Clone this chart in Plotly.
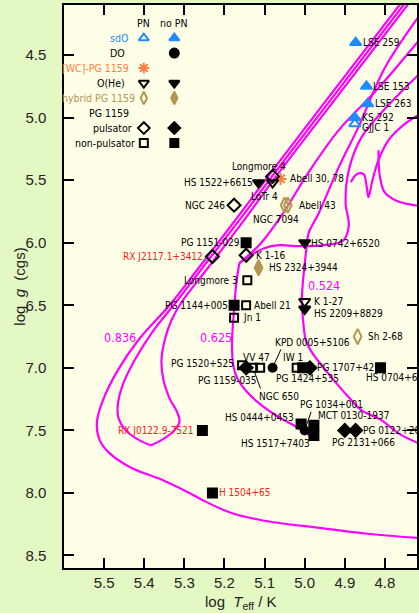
import plotly.graph_objects as go

# ---------------- data ----------------
# evolutionary tracks (log Teff, log g)
trk836a_x = [4.754, 4.940, 5.089, 5.173, 5.263, 5.337, 5.411, 5.466, 5.503, 5.518, 5.511, 5.486,
             5.434, 5.352, 5.285, 5.253, 5.186, 5.104, 4.972, 4.848, 4.704]
trk836a_y = [4.06, 4.836, 5.46, 5.82, 6.196, 6.50, 6.764, 7.02, 7.26, 7.436, 7.58, 7.684,
             7.796, 7.90, 8.004, 8.06, 8.156, 8.22, 8.276, 8.324, 8.364]
trk836b_x = [4.744, 4.930, 5.079, 5.163, 5.250, 5.317, 5.382, 5.424, 5.454, 5.466, 5.464, 5.446,
             5.416, 5.384]
trk836b_y = [4.06, 4.836, 5.46, 5.82, 6.18, 6.46, 6.724, 6.94, 7.14, 7.30, 7.404, 7.50,
             7.572, 7.62]
trk836c_x = [5.384, 5.354, 5.325, 5.312, 5.320, 5.337, 5.352, 5.357, 5.349, 5.332, 5.307,
             5.240, 5.153, 5.069, 4.920, 4.734]
trk836c_y = [7.62, 7.572, 7.50, 7.428, 7.34, 7.244, 7.10, 6.94, 6.78, 6.62, 6.476,
             6.196, 5.828, 5.46, 4.836, 4.06]
trk625a_x = [4.704, 4.816, 4.915, 4.990, 5.057, 5.109, 5.143, 5.163]
trk625a_y = [4.34, 4.764, 5.10, 5.436, 5.78, 6.004, 6.108, 6.164]
trk625b_x = [5.163, 5.171, 5.176, 5.181, 5.178, 5.168, 5.143, 5.104, 5.059, 5.014, 4.970]
trk625b_y = [6.164, 6.34, 6.54, 6.78, 6.98, 7.084, 7.196, 7.308, 7.404, 7.484, 7.58]
trk524_x = [4.704, 4.799, 4.866, 4.915, 4.965, 4.990, 4.997, 5.004, 5.007, 5.004, 4.997, 4.982,
            4.933, 4.890, 4.858, 4.808, 4.766, 4.704]
trk524_y = [4.14, 4.596, 5.076, 5.396, 5.764, 5.924, 6.084, 6.30, 6.46, 6.62, 6.78, 6.876,
            7.076, 7.236, 7.34, 7.42, 7.524, 7.62]
loop_x = [4.704, 4.791, 4.858, 4.890, 4.898, 4.890, 4.903, 4.952, 5.014, 5.064, 5.101, 5.138, 5.163]
loop_y = [4.62, 4.90, 5.156, 5.42, 5.684, 5.86, 5.98, 6.02, 6.028, 6.02, 6.044, 6.108, 6.164]
curlA_x = [4.885, 4.870, 4.853, 4.846, 4.841, 4.831, 4.816, 4.791, 4.754, 4.704]
curlA_y = [5.516, 5.452, 5.452, 5.54, 5.636, 5.50, 5.34, 5.18, 5.06, 4.956]
curlB_x = [4.816, 4.813, 4.801, 4.774, 4.741, 4.704]
curlB_y = [5.26, 5.46, 5.596, 5.66, 5.692, 5.708]
track_labels = ["0.836", "0.625", "0.524"]
track_label_x = [5.461, 5.220, 4.952]
track_label_y = [6.76, 6.76, 6.34]

# stars
sdo_pn = (["GJJC 1"], [4.875], [5.05])
sdo_nopn = (["LSE 259", "LSE 153", "LSE 263", "KS 292"],
            [4.873, 4.846, 4.843, 4.875], [4.40, 4.75, 4.89, 5.00])
do_nopn = (["KPD 0005+5106", "PG 1034+001"], [5.08, 5.00], [7.0, 7.5])
wc_pn = (["Abell 30, 78"], [5.06], [5.49])
ohe_pn = (["LoTr 4", "K 1-27"], [5.08, 5.00], [5.52, 6.47])
ohe_nopn = (["HS 1522+6615", "HS 0742+6520", "HS 2209+8829"],
            [5.115, 5.00, 5.00], [5.52, 6.00, 6.53])
hyb_pn = (["Abell 43", "NGC 7094", "Sh 2-68"], [5.042, 5.05, 4.868], [5.70, 5.70, 6.75])
hyb_nopn = (["HS 2324+3944"], [5.115], [6.20])
puls_pn = (["Longmore 4", "NGC 246", "RX J2117.1+3412", "K 1-16"],
           [5.08, 5.176, 5.23, 5.146], [5.47, 5.70, 6.11, 6.10])
puls_nopn = (["PG 1159-035", "PG 1707+427", "PG 2131+066", "PG 0122+200"],
             [5.146, 4.987, 4.90, 4.873], [7.0, 7.0, 7.5, 7.5])
npuls_pn = (["Longmore 3", "Abell 21", "Jn 1", "PG 1520+525", "NGC 650", "VV 47", "IW 1"],
            [5.143, 5.146, 5.176, 5.156, 5.129, 5.111, 5.02],
            [6.30, 6.50, 6.60, 6.98, 7.0, 7.0, 7.0])
npuls_nopn = (["PG 1151-029", "PG 1144+005", "PG 1424+535", "HS 0704+6153", "HS 0444+0453",
               "MCT 0130-1937", "HS 1517+7403", "RX J0122.9-7521", "H 1504+65"],
              [5.146, 5.176, 5.005, 4.811, 5.009, 4.977, 4.977, 5.255, 5.23],
              [6.0, 6.5, 7.0, 7.0, 7.45, 7.46, 7.54, 7.5, 8.0])

legend_rows = ["sdO", "DO", "[WC]-PG 1159", "O(He)", "hybrid PG 1159", "PG 1159", "pulsator", "non-pulsator"]

x_ticks = [5.5, 5.4, 5.3, 5.2, 5.1, 5.0, 4.9, 4.8]
y_ticks = [4.5, 5.0, 5.5, 6.0, 6.5, 7.0, 7.5, 8.0, 8.5]

# ---------------- style ----------------
MAG = "#ff00ff"
BLUE = "#1e8cff"
ORANGE = "#ff7f40"
OLIVE = "#b49650"
RED = "#ff1a1a"
BLACK = "#000000"
LFONT = "DejaVu Sans Condensed, Liberation Sans Narrow, Liberation Sans, sans-serif"
AFONT = "Liberation Sans, DejaVu Sans, sans-serif"

red_names = {"RX J2117.1+3412", "RX J0122.9-7521", "H 1504+65"}

# label placement: anchor, dx, dy (pixels, dy down)
lab = {
    "LSE 259": ("left", 5, 0), "LSE 153": ("left", 5, 0), "LSE 263": ("left", 5, 0),
    "KS 292": ("left", 5, 0), "GJJC 1": ("left", 5, 4), "Abell 30, 78": ("left", 7, 0),
    "HS 1522+6615": ("right", -4, 0), "Longmore 4": ("center", -14, -10), "LoTr 4": ("center", -8, 14),
    "NGC 246": ("right", -7, 0), "Abell 43": ("left", 9, 0), "NGC 7094": ("center", -9, 14),
    "PG 1151-029": ("right", -4, 0), "RX J2117.1+3412": ("right", -7, 0), "K 1-16": ("left", 8, 0),
    "HS 2324+3944": ("left", 8, 0), "HS 0742+6520": ("left", 4, 1), "Longmore 3": ("right", -7, 0),
    "PG 1144+005": ("right", -4, 0), "Abell 21": ("left", 6, 0), "Jn 1": ("left", 7, 0),
    "K 1-27": ("left", 7, 0), "HS 2209+8829": ("left", 7, 4), "Sh 2-68": ("left", 8, 0),
    "KPD 0005+5106": ("left", 0, -25), "PG 1034+001": ("center", 27, -26), "NGC 650": ("center", 26, 29),
    "VV 47": ("center", -4, -10), "PG 1520+525": ("right", -6, -2), "PG 1159-035": ("center", -19, 13),
    "IW 1": ("center", -4, -10), "PG 1424+535": ("center", 5, 11), "PG 1707+427": ("left", 5, 0),
    "HS 0704+6153": ("left", -17, 10), "HS 0444+0453": ("right", -5, -7), "MCT 0130-1937": ("left", 2, -10),
    "HS 1517+7403": ("right", -2, 8), "RX J0122.9-7521": ("right", -6, 0), "H 1504+65": ("left", 5, 0),
    "PG 0122+200": ("left", 5, 0), "PG 2131+066": ("center", 19, 12),
}
leaders = {"KPD 0005+5106": (9, -20), "PG 1034+001": (7, -20), "NGC 650": (8, 22)}

fig = go.Figure()

for tx, ty in [(trk836a_x, trk836a_y), (trk836b_x, trk836b_y), (trk836c_x, trk836c_y),
               (trk625a_x, trk625a_y), (trk625b_x, trk625b_y), (trk524_x, trk524_y),
               (loop_x, loop_y), (curlA_x, curlA_y), (curlB_x, curlB_y)]:
    fig.add_trace(go.Scatter(x=tx, y=ty, mode="lines", line=dict(color=MAG, width=2.2),
                             line_shape="spline", hoverinfo="skip"))

groups = [
    (sdo_pn, "triangle-up-open", BLUE, 10),
    (sdo_nopn, "triangle-up", BLUE, 10),
    (do_nopn, "circle", BLACK, 8),
    (wc_pn, "asterisk-open", ORANGE, 10),
    (ohe_pn, "triangle-down-open", BLACK, 10),
    (ohe_nopn, "triangle-down", BLACK, 10),
    (hyb_pn, "diamond-tall-open", OLIVE, 11),
    (hyb_nopn, "diamond-tall", OLIVE, 11),
    (puls_pn, "diamond-open", BLACK, 10),
    (puls_nopn, "diamond", BLACK, 10),
    (npuls_pn, "square-open", BLACK, 8),
    (npuls_nopn, "square", BLACK, 9),
]

annotations = []
for (names, xs, ys), sym, col, size in groups:
    fig.add_trace(go.Scatter(x=xs, y=ys, mode="markers",
                             marker=dict(symbol=sym, color=col, size=size,
                                         line=dict(color=col, width=2)),
                             hoverinfo="skip"))
    for n, xv, yv in zip(names, xs, ys):
        anc, dx, dy = lab[n]
        annotations.append(dict(x=xv, y=yv, text=n, showarrow=False, xanchor=anc, yanchor="middle",
                                xshift=dx, yshift=-dy,
                                font=dict(family=LFONT, size=10, color=RED if n in red_names else BLACK)))
        if n in leaders:
            lx, ly = leaders[n]
            annotations.append(dict(x=xv, y=yv, text="", showarrow=True, arrowhead=0, arrowwidth=1,
                                    arrowcolor=BLACK, ax=lx, ay=ly, standoff=4))

for t, xv, yv in zip(track_labels, track_label_x, track_label_y):
    annotations.append(dict(x=xv, y=yv, text=t, showarrow=False,
                            font=dict(family=LFONT, size=12.5, color=MAG)))

# legend built inside the plot
x_pn, x_nopn = 5.401, 5.325
row_y = [4.364, 4.484, 4.604, 4.724, 4.844, 4.964, 5.084, 5.204]
row_col = [BLUE, BLACK, ORANGE, BLACK, OLIVE, BLACK, BLACK, BLACK]
row_shift = [-14, -17, -13, -17, -7, -13, -10, -7]
annotations.append(dict(x=x_pn, y=4.244, text="PN", showarrow=False,
                        font=dict(family=LFONT, size=10.5, color=BLACK)))
annotations.append(dict(x=x_nopn, y=4.244, text="no PN", showarrow=False,
                        font=dict(family=LFONT, size=10.5, color=BLACK)))
for t, yv, c, sh in zip(legend_rows, row_y, row_col, row_shift):
    annotations.append(dict(x=x_pn, y=yv, text=t, showarrow=False, xanchor="right", xshift=sh,
                            font=dict(family=LFONT, size=10.5, color=c)))
leg_marks = [
    (0, "triangle-up-open", "triangle-up", BLUE),
    (1, None, "circle", BLACK),
    (2, "asterisk-open", None, ORANGE),
    (3, "triangle-down-open", "triangle-down", BLACK),
    (4, "diamond-tall-open", "diamond-tall", OLIVE),
    (6, "diamond-open", "diamond", BLACK),
    (7, "square-open", "square", BLACK),
]
for i, s1, s2, c in leg_marks:
    for xv, s in [(x_pn, s1), (x_nopn, s2)]:
        if s is None:
            continue
        fig.add_trace(go.Scatter(x=[xv], y=[row_y[i]], mode="markers",
                                 marker=dict(symbol=s, color=c, size=8 if "square" in s else 9,
                                             line=dict(color=c, width=2)),
                                 hoverinfo="skip"))

# axis titles
annotations.append(dict(xref="paper", yref="paper", x=-0.127, y=0.5, text="log  <i>g</i>  (cgs)",
                        textangle=-90, showarrow=False, xanchor="center", yanchor="middle",
                        font=dict(family=AFONT, size=15, color="#222")))
annotations.append(dict(xref="paper", yref="paper", x=0.5, y=-0.062, text="log  <i>T</i><sub>eff</sub> / K",
                        showarrow=False, xanchor="center", yanchor="middle",
                        font=dict(family=AFONT, size=15, color="#222")))

axis_common = dict(showline=True, linecolor=BLACK, linewidth=1.5, mirror="ticks", ticks="inside",
                   ticklen=10, tickwidth=1.5, tickcolor=BLACK, showgrid=False, zeroline=False,
                   tickfont=dict(family=AFONT, size=15, color="#222"), tickformat=".1f")

fig.update_layout(
    width=419, height=613,
    margin=dict(l=64, r=0, t=5, b=45),
    paper_bgcolor="#e4f8c4",
    plot_bgcolor="#fffee6",
    showlegend=False,
    annotations=annotations,
    xaxis=dict(range=[5.6, 4.72], tickvals=x_ticks, ticklabelstandoff=0, **axis_common),
    yaxis=dict(range=[8.6, 4.1], tickvals=y_ticks, ticklabelstandoff=13, **axis_common),
)

fig.write_html("out.html", config={"displayModeBar": False},
               post_script="document.body.style.margin='0';document.body.style.overflow='hidden';")
